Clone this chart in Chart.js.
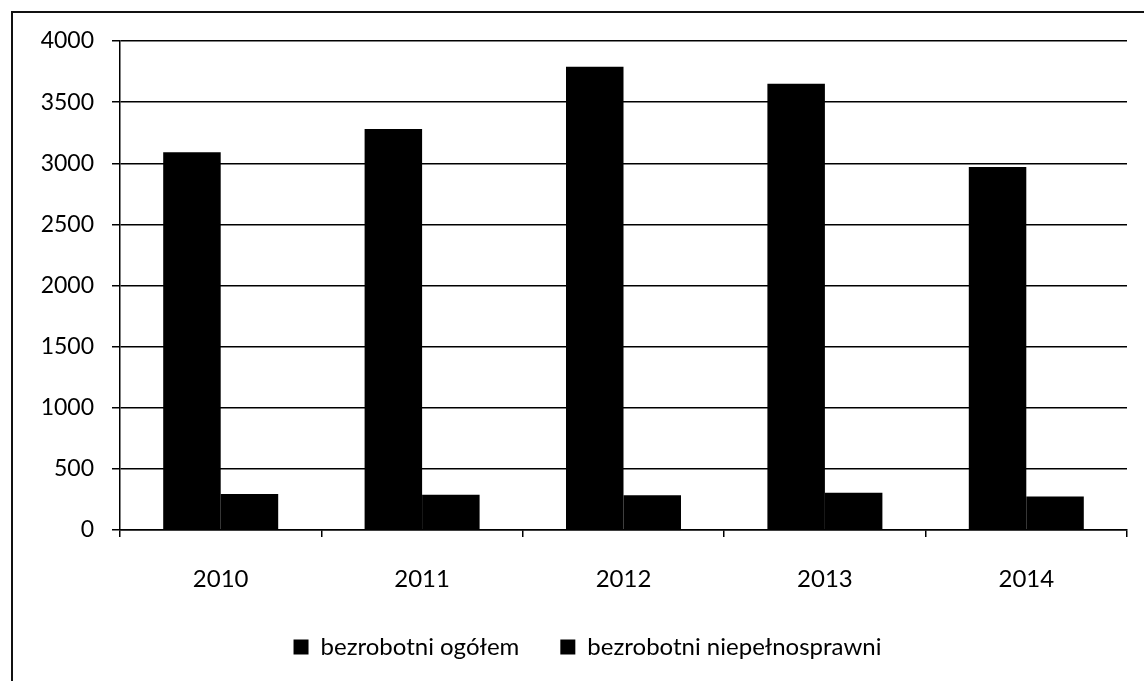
<!DOCTYPE html>
<html>
<head>
<meta charset="utf-8">
<script src="https://cdn.jsdelivr.net/npm/chart.js@4"></script>
<style>
  html, body { margin:0; padding:0; background:#fff; }
  #wrap { position:relative; width:1144px; height:681px; overflow:hidden; }
  #frame { position:absolute; left:11px; top:11px; width:1200px; height:700px;
           border-left:2px solid #111; border-top:2px solid #111; }
  canvas { position:absolute; left:0; top:0; }
</style>
</head>
<body>
<div id="wrap">
  <div id="frame"></div>
  <canvas id="chart" width="1144" height="681"></canvas>
</div>
<script>
const years = ['2010', '2011', '2012', '2013', '2014'];
const ogolem = [3090, 3280, 3790, 3650, 2970];
const niepelnosprawni = [295, 288, 285, 305, 275];
const yTicks = [0, 500, 1000, 1500, 2000, 2500, 3000, 3500, 4000];

const font = "Lato, 'Open Sans', sans-serif";

// the legend sits centred on the whole frame, a bit right of the plot centre
const shiftLegend = {
  id: 'shiftLegend',
  afterLayout(chart) {
    chart.legend.left += 24;
    chart.legend.right += 24;
  }
};

const ctx = document.getElementById('chart').getContext('2d');
new Chart(ctx, {
  type: 'bar',
  data: {
    labels: years,
    datasets: [
      { label: 'bezrobotni ogółem', data: ogolem, backgroundColor: '#000',
        categoryPercentage: 0.571, barPercentage: 1.0 },
      { label: 'bezrobotni niepełnosprawni', data: niepelnosprawni, backgroundColor: '#000',
        categoryPercentage: 0.571, barPercentage: 1.0 }
    ]
  },
  options: {
    responsive: false,
    animation: false,
    layout: { padding: { top: 41, right: 17, bottom: 12, left: 0 } },
    plugins: {
      tooltip: { enabled: false },
      legend: {
        position: 'bottom',
        labels: {
          color: '#000', boxWidth: 15, boxHeight: 15, padding: 41,
          font: { family: font, size: 24 }
        }
      }
    },
    scales: {
      x: {
        grid: { display: true, drawOnChartArea: false, offset: true, color: '#000', lineWidth: 1.5, tickLength: 7 },
        border: { color: '#000', width: 1.5 },
        ticks: { color: '#000', padding: 28, font: { family: font, size: 24 } },
        afterFit: s => { s.height = 64; }
      },
      y: {
        min: 0, max: 4000,
        afterBuildTicks: s => { s.ticks = yTicks.map(v => ({ value: v })); },
        grid: { color: '#000', lineWidth: 1.5, tickLength: 8 },
        border: { color: '#000', width: 1.5 },
        ticks: { color: '#000', padding: 18, font: { family: font, size: 23 },
                 callback: v => String(v) },
        afterFit: s => { s.width = 120; }
      }
    }
  },
  plugins: [shiftLegend]
});
</script>
</body>
</html>
